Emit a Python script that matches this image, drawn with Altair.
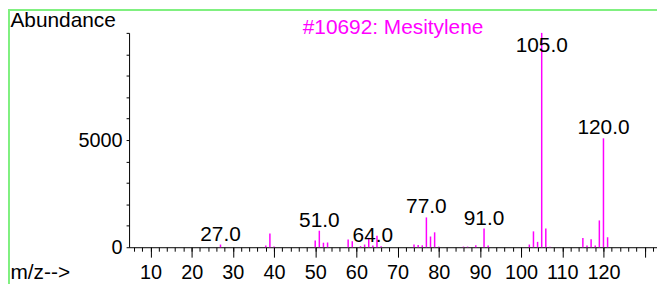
import altair as alt
import pandas as pd

# ---- data ----
mz = [27, 38, 39, 40, 50, 51, 52, 53, 58, 59, 61, 62, 63, 64, 65, 66,
      74, 75, 76, 77, 78, 79, 80, 86, 87, 89, 91, 92,
      102, 103, 104, 105, 106, 107, 115, 116, 117, 118, 119, 120, 121]
abundance = [125, 80, 640, 30, 310, 770, 210, 220, 360, 280, 50, 125, 435, 80, 540, 40,
             125, 100, 90, 1390, 500, 695, 30, 30, 30, 90, 870, 80,
             125, 740, 250, 9999, 870, 20, 435, 80, 370, 80, 1250, 5080, 465]
labeled_mz = [27, 51, 64, 77, 91, 105, 120]
x_major = [10, 20, 30, 40, 50, 60, 70, 80, 90, 100, 110, 120, 130]
x_minor = list(range(6, 133, 2))
y_ticks = [0, 1000, 2000, 3000, 4000, 5000, 6000, 7000, 8000, 9000, 10000]

df = pd.DataFrame({"mz": mz, "abundance": abundance})
labels_df = df[df["mz"].isin(labeled_mz)].copy()

FONT = "Liberation Sans"
MAGENTA = "#ff00ff"
GREEN = "#80f080"

x_scale = alt.Scale(domain=[4.8, 133], nice=False, zero=False)
y_scale = alt.Scale(domain=[0, 10000], nice=False, zero=True)

bars = alt.Chart(df).mark_rule(color=MAGENTA, strokeWidth=1.5).encode(
    x=alt.X("mz:Q", scale=x_scale, axis=alt.Axis(
        values=x_major, orient="bottom", tickSize=10, tickColor="black",
        domainColor="black", grid=False,
        labelExpr="datum.value <= 120 ? datum.label : ''",
        labelFont=FONT, labelFontSize=20, labelColor="black", labelPadding=6,
        labelFlush=False, labelOverlap=False,
        title="m/z-->", titleFont=FONT, titleFontSize=21, titleFontWeight="normal",
        titleColor="black", titleAlign="left", titleBaseline="alphabetic",
        titleX=-120, titleY=32)),
    y=alt.Y("abundance:Q", scale=y_scale, axis=alt.Axis(
        values=y_ticks, tickSize=3, tickColor="black", domainColor="black",
        grid=False, format="d", orient="left",
        labelExpr="(datum.value == 0 || datum.value == 5000) ? datum.label : ''",
        labelFont=FONT, labelFontSize=20, labelColor="black", labelPadding=4,
        labelFlush=False, labelOverlap=False,
        title="Abundance", titleFont=FONT, titleFontSize=21, titleFontWeight="normal",
        titleColor="black", titleAngle=0, titleAlign="left", titleBaseline="alphabetic",
        titleX=-120, titleY=-6)),
    y2=alt.datum(0),
)

text = alt.Chart(labels_df).transform_calculate(
    label="format(datum.mz, '.1f')",
    ypos="min(datum.abundance, 8900)",
).mark_text(font=FONT, fontSize=21, color="black", baseline="alphabetic",
            align="center", dy=-4).encode(
    x=alt.X("mz:Q", scale=x_scale, axis=alt.Axis(
        values=x_minor, orient="bottom", tickSize=4, tickColor="black",
        labels=False, domain=False, grid=False, title="")),
    y=alt.Y("ypos:Q", scale=y_scale, axis=None),
    text="label:N",
)

frame_df = pd.DataFrame({"k": [0]})
top_line = alt.Chart(frame_df).mark_rule(color=GREEN, strokeWidth=2).encode(
    x=alt.value(-122), x2=alt.value(535), y=alt.value(-23))
left_line = alt.Chart(frame_df).mark_rule(color=GREEN, strokeWidth=2).encode(
    x=alt.value(-121), y=alt.value(-23), y2=alt.value(253))

chart = alt.layer(top_line, left_line, bars, text).resolve_axis(
    x="independent", y="independent"
).properties(
    width=532, height=216,
    padding={"left": 122, "top": 24, "right": 0, "bottom": 37},
    autosize=alt.AutoSizeParams(type="none"),
    title=alt.TitleParams("#10692: Mesitylene", color=MAGENTA, fontSize=21,
                          fontWeight="normal", font=FONT, anchor="middle",
                          frame="group", offset=-46, baseline="alphabetic"),
).configure(font=FONT).configure_view(strokeWidth=0)

chart.save("out.html", embed_options={"renderer": "svg", "actions": False})
